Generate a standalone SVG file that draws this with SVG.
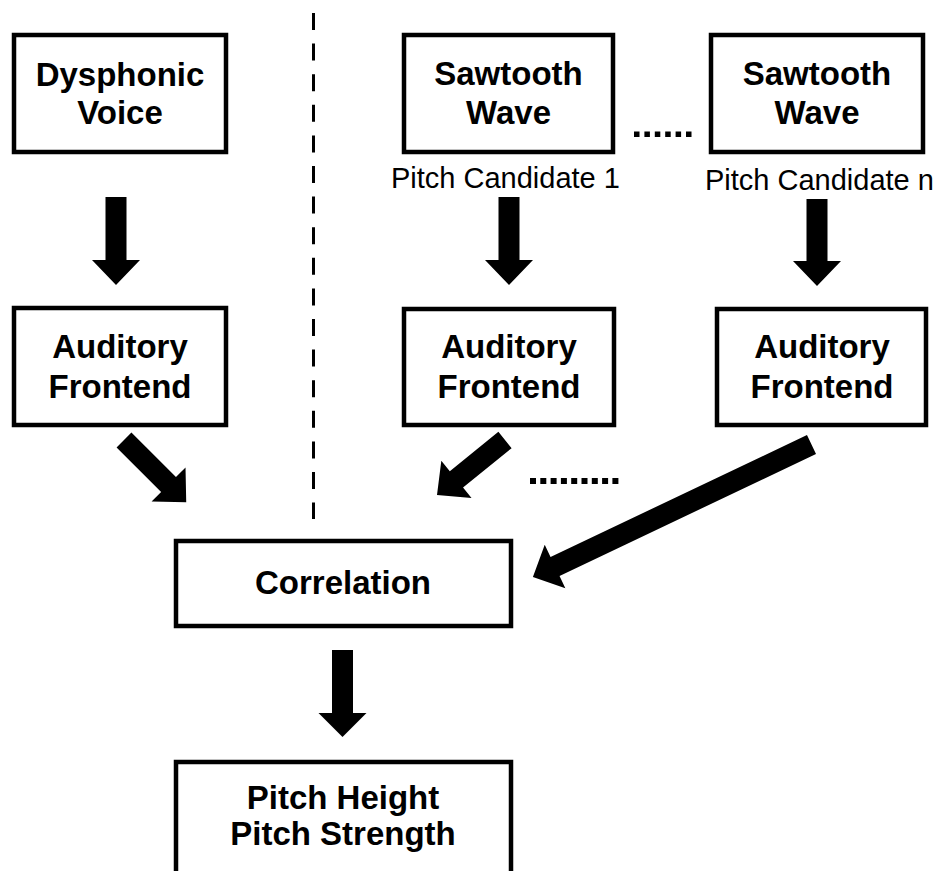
<svg xmlns="http://www.w3.org/2000/svg" width="941" height="871" viewBox="0 0 941 871">
  <style>
    .box { fill: #ffffff; stroke: #000000; stroke-width: 4.5; }
    .label { font-family: "Liberation Sans", Arial, sans-serif; font-weight: bold; font-size: 33px; fill: #000000; text-anchor: middle; }
    .caption { font-family: "Liberation Sans", Arial, sans-serif; font-size: 29px; fill: #000000; }
    .arrow { fill: #000000; stroke: none; }
    .dot { fill: #000000; }
    .divider { stroke: #000000; stroke-width: 3; stroke-dasharray: 17 13.6; fill: none; }
  </style>

  <rect x="0" y="0" width="941" height="871" fill="#ffffff"/>

  <!-- dashed separator between the voice path and the reference path -->
  <line class="divider" x1="313.5" y1="13" x2="313.5" y2="519"/>

  <!-- nodes -->
  <g id="dysphonic-voice">
    <rect class="box" x="14" y="35" width="212" height="117"/>
    <text class="label" x="120" y="86">Dysphonic</text>
    <text class="label" x="120" y="124">Voice</text>
  </g>

  <g id="sawtooth-1">
    <rect class="box" x="404" y="35" width="209" height="117"/>
    <text class="label" x="508.5" y="85">Sawtooth</text>
    <text class="label" x="508.5" y="124">Wave</text>
    <text class="caption" x="391" y="188">Pitch Candidate 1</text>
  </g>

  <g id="sawtooth-n">
    <rect class="box" x="711" y="35" width="212" height="117"/>
    <text class="label" x="817" y="85">Sawtooth</text>
    <text class="label" x="817" y="124">Wave</text>
    <text class="caption" x="705" y="190">Pitch Candidate n</text>
  </g>

  <g id="frontend-voice">
    <rect class="box" x="14" y="308" width="212" height="117"/>
    <text class="label" x="120" y="358">Auditory</text>
    <text class="label" x="120" y="398">Frontend</text>
  </g>

  <g id="frontend-1">
    <rect class="box" x="404" y="309" width="210" height="116"/>
    <text class="label" x="509" y="358">Auditory</text>
    <text class="label" x="509" y="398">Frontend</text>
  </g>

  <g id="frontend-n">
    <rect class="box" x="717" y="309" width="209" height="116"/>
    <text class="label" x="822" y="358">Auditory</text>
    <text class="label" x="822" y="398">Frontend</text>
  </g>

  <g id="correlation">
    <rect class="box" x="176" y="541" width="335" height="85"/>
    <text class="label" x="343" y="594">Correlation</text>
  </g>

  <g id="pitch-result">
    <rect class="box" x="176" y="762" width="335" height="140"/>
    <text class="label" x="343" y="809">Pitch Height</text>
    <text class="label" x="343" y="845">Pitch Strength</text>
  </g>

  <!-- ellipses marking the omitted candidates -->
  <g id="ellipsis-top">
    <rect class="dot" x="634" y="131.5" width="5.5" height="5.5"/>
    <rect class="dot" x="644.4" y="131.5" width="5.5" height="5.5"/>
    <rect class="dot" x="654.8" y="131.5" width="5.5" height="5.5"/>
    <rect class="dot" x="665.2" y="131.5" width="5.5" height="5.5"/>
    <rect class="dot" x="675.6" y="131.5" width="5.5" height="5.5"/>
    <rect class="dot" x="686" y="131.5" width="5.5" height="5.5"/>
  </g>
  <g id="ellipsis-bottom">
    <rect class="dot" x="530" y="478" width="6" height="6"/>
    <rect class="dot" x="540.3" y="478" width="6" height="6"/>
    <rect class="dot" x="550.6" y="478" width="6" height="6"/>
    <rect class="dot" x="560.9" y="478" width="6" height="6"/>
    <rect class="dot" x="571.2" y="478" width="6" height="6"/>
    <rect class="dot" x="581.5" y="478" width="6" height="6"/>
    <rect class="dot" x="591.8" y="478" width="6" height="6"/>
    <rect class="dot" x="602.1" y="478" width="6" height="6"/>
    <rect class="dot" x="612.4" y="478" width="6" height="6"/>
  </g>

  <!-- connectors: block arrows -->
  <g id="connectors">
    <polygon class="arrow" points="105.5,197 126.5,197 126.5,260 140,260 116,285 92,260 105.5,260"/>
    <polygon class="arrow" points="498.5,197 519.5,197 519.5,260 533,260 509,285 485,260 498.5,260"/>
    <polygon class="arrow" points="806.5,199 827.5,199 827.5,261 841,261 817,286 793,261 806.5,261"/>
    <polygon class="arrow" points="332,650 353,650 353,713 366.5,713 342.5,737 318.5,713 332,713"/>
    <polygon class="arrow" transform="translate(124,440) rotate(45)" points="0,-10.5 63,-10.5 63,-24 88,0 63,24 63,10.5 0,10.5"/>
    <polygon class="arrow" transform="translate(505,440) rotate(141)" points="0,-10.5 62.5,-10.5 62.5,-24 87.5,0 62.5,24 62.5,10.5 0,10.5"/>
    <polygon class="arrow" transform="translate(811.5,444.5) rotate(154.56)" points="0,-10.5 284,-10.5 284,-24 308.5,0 284,24 284,10.5 0,10.5"/>
  </g>
</svg>
